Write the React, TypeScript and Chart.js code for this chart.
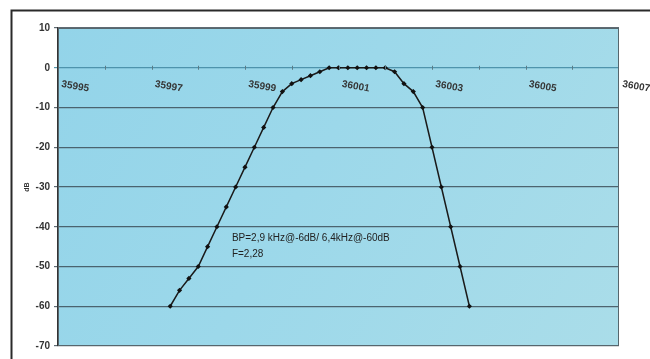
import React, { useEffect, useRef } from "react";
import { Chart, registerables } from "chart.js";

Chart.register(...registerables);

// Frequency (kHz) of each measured point
const freqs: number[] = [
  35997.4, 35997.6, 35997.8, 35998.0, 35998.2, 35998.4, 35998.6, 35998.8,
  35999.0, 35999.2, 35999.4, 35999.6, 35999.8, 36000.0, 36000.2, 36000.4,
  36000.6, 36000.8, 36001.0, 36001.2, 36001.4, 36001.6, 36001.8, 36002.0,
  36002.2, 36002.4, 36002.6, 36002.8, 36003.0, 36003.2, 36003.4, 36003.6,
  36003.8,
];
// Attenuation (dB)
const levels: number[] = [
  -60, -56, -53, -50, -45, -40, -35, -30,
  -25, -20, -15, -10, -6, -4, -3, -2,
  -1, 0, 0, 0, 0, 0, 0, 0,
  -1, -4, -6, -10, -20, -30, -40, -50,
  -60,
];
const xTickLabels: number[] = [35995, 35997, 35999, 36001, 36003, 36005, 36007];
const xMinorTicks: number[] = [35996, 35997, 35998, 35999, 36000, 36001, 36002, 36003, 36004, 36005, 36006];
const annotationLines: string[] = ["BP=2,9 kHz@-6dB/ 6,4kHz@-60dB", "F=2,28"];
const annotationAt = { x: 35998.72, y: -43 };
const yAxisTitle = "dB";

const decorPlugin = {
  id: "decor",
  beforeDraw(chart: any) {
    const { ctx, chartArea: a } = chart;
    ctx.save();
    ctx.fillStyle = "#ffffff";
    ctx.fillRect(0, 0, chart.width, chart.height);
    const g = ctx.createLinearGradient(a.left, a.top, a.right, a.bottom);
    g.addColorStop(0, "#93d4e9");
    g.addColorStop(0.45, "#9cd8ea");
    g.addColorStop(1, "#aadde9");
    ctx.fillStyle = g;
    ctx.fillRect(a.left, a.top, a.right - a.left, a.bottom - a.top);
    // outer frame
    ctx.strokeStyle = "#2a2a2a";
    ctx.lineWidth = 2;
    ctx.beginPath();
    ctx.moveTo(11.5, chart.height + 5);
    ctx.lineTo(11.5, 10.5);
    ctx.lineTo(chart.width + 5, 10.5);
    ctx.stroke();
    ctx.restore();
  },
  afterDraw(chart: any) {
    const { ctx, chartArea: a } = chart;
    const xs = chart.scales.x;
    const ys = chart.scales.y;
    const y0 = ys.getPixelForValue(0);
    ctx.save();
    // plot frame
    ctx.strokeStyle = "#56666d";
    ctx.lineWidth = 1;
    ctx.strokeRect(a.left + 0.5, a.top + 0.5, a.right - a.left - 1, a.bottom - a.top - 1);
    // minor tick marks on the 0 dB axis
    ctx.strokeStyle = "#5a7c88";
    xMinorTicks.forEach((v) => {
      const px = Math.round(xs.getPixelForValue(v)) + 0.5;
      ctx.beginPath();
      ctx.moveTo(px, y0 - 2);
      ctx.lineTo(px, y0 + 2);
      ctx.stroke();
    });
    // rotated tick labels
    ctx.fillStyle = "#353535";
    ctx.font = "bold 10px Arial, 'Liberation Sans', sans-serif";
    ctx.textAlign = "left";
    ctx.textBaseline = "alphabetic";
    xTickLabels.forEach((v) => {
      const px = xs.getPixelForValue(v);
      ctx.save();
      ctx.translate(px + 3, y0 + 19);
      ctx.rotate((10 * Math.PI) / 180);
      ctx.fillText(String(v), 0, 0);
      ctx.restore();
    });
    // annotation
    const ax = xs.getPixelForValue(annotationAt.x);
    const ay = ys.getPixelForValue(annotationAt.y);
    ctx.fillStyle = "#222222";
    ctx.font = "10px Arial, 'Liberation Sans', sans-serif";
    ctx.textBaseline = "middle";
    annotationLines.forEach((t, i) => ctx.fillText(t, ax, ay + i * 15.5));
    ctx.restore();
  },
};

export default function App() {
  const ref = useRef<HTMLCanvasElement>(null);
  useEffect(() => {
    if (!ref.current) return;
    const chart = new Chart(ref.current, {
      type: "line",
      data: {
        datasets: [
          {
            data: freqs.map((f, i) => ({ x: f, y: levels[i] })),
            borderColor: "#1a1a1a",
            borderWidth: 1.5,
            pointStyle: "rectRot",
            pointRadius: 2.6,
            pointBackgroundColor: "#111111",
            pointBorderColor: "#111111",
            pointBorderWidth: 0,
            tension: 0,
          },
        ],
      },
      options: {
        animation: false,
        responsive: false,
        events: [],
        layout: { padding: { left: 0, top: 28, right: 31, bottom: 13 } },
        plugins: { legend: { display: false }, tooltip: { enabled: false } },
        scales: {
          x: {
            type: "linear",
            min: 35995,
            max: 36007,
            ticks: { display: false, stepSize: 1 },
            grid: { display: false },
            border: { display: false },
            afterFit: (s: any) => {
              s.height = 0;
            },
          },
          y: {
            min: -70,
            max: 10,
            ticks: {
              stepSize: 10,
              padding: 4,
              color: "#333333",
              font: { family: "Arial, 'Liberation Sans', sans-serif", size: 10, weight: "bold" },
            },
            grid: {
              color: (c: any) => (c.tick && c.tick.value === 0 ? "rgba(70,140,165,0.9)" : "rgba(55,70,80,0.8)"),
              lineWidth: 1.2,
              tickLength: 4,
            },
            border: { display: true, color: "#333333", width: 1.5 },
            title: {
              display: true,
              text: yAxisTitle,
              color: "#333333",
              font: { family: "Arial, 'Liberation Sans', sans-serif", size: 7, weight: "bold" },
              padding: { top: 23, bottom: 0 },
            },
            afterFit: (s: any) => {
              s.width = 58;
            },
          },
        },
      },
      plugins: [decorPlugin],
    } as any);
    return () => chart.destroy();
  }, []);
  return (
    <div style={{ position: "absolute", left: 0, top: 0, width: 650, height: 359 }}>
      <canvas ref={ref} width={650} height={359} style={{ display: "block" }} />
    </div>
  );
}
